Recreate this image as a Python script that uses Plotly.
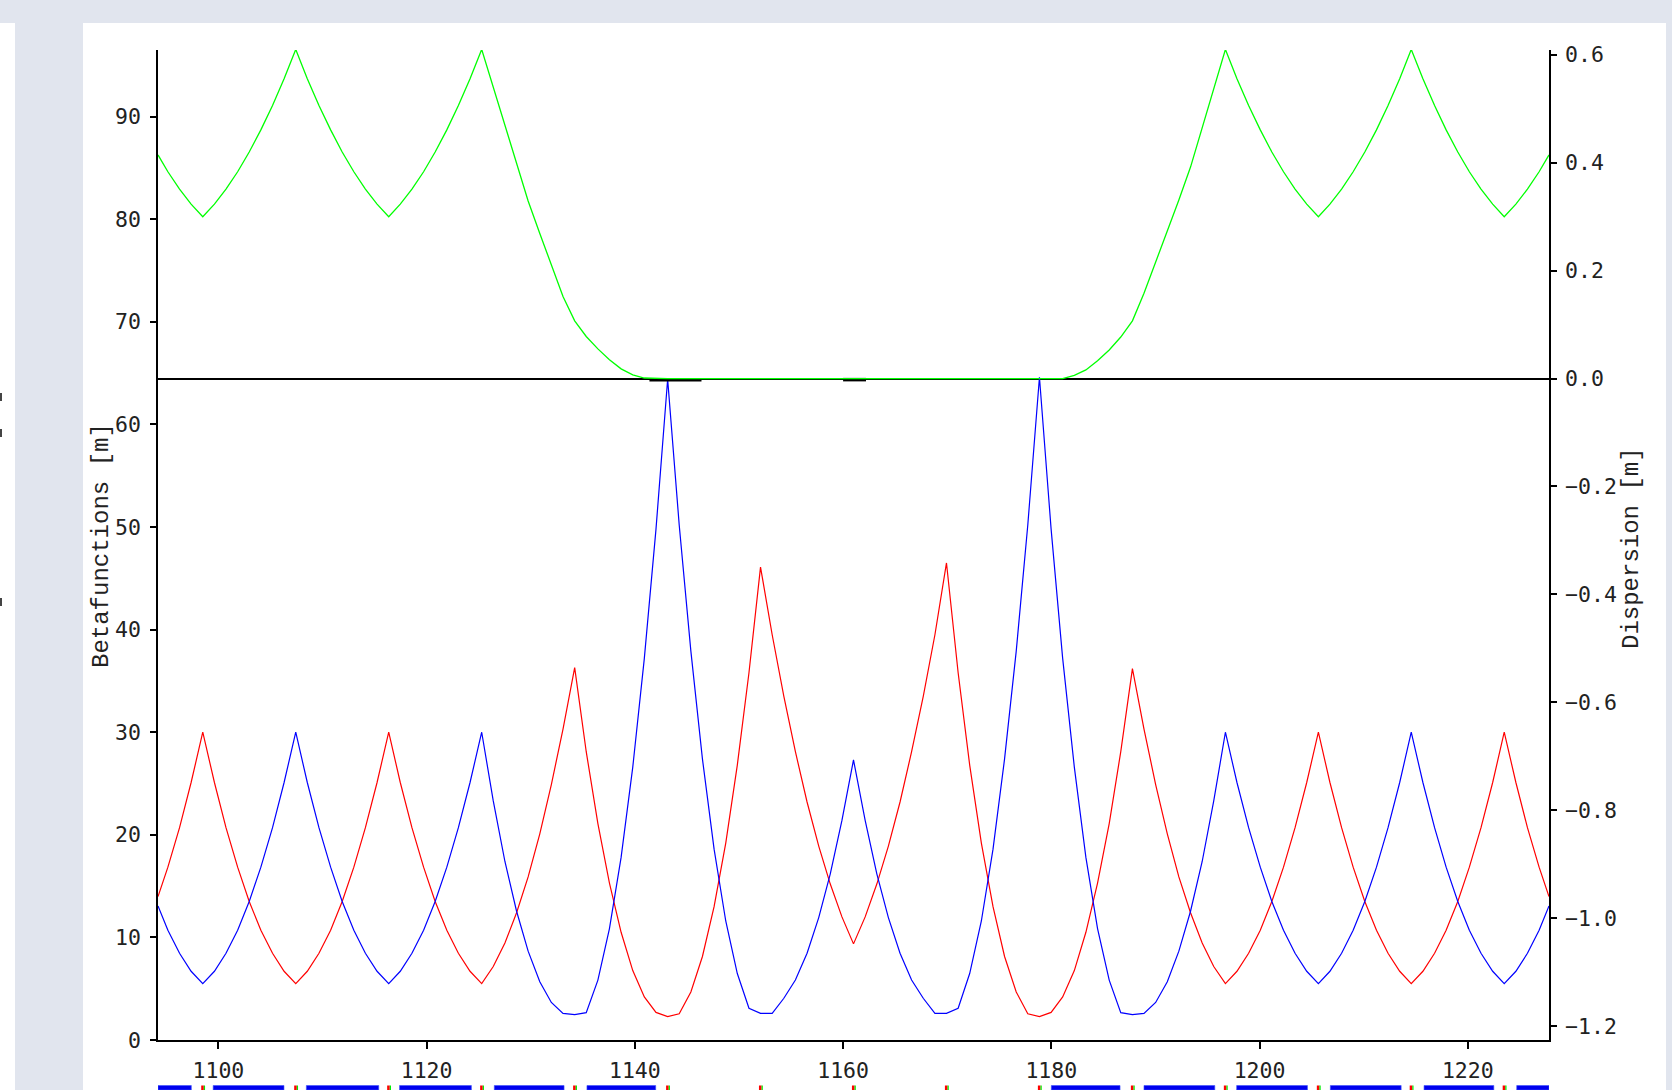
import plotly.graph_objects as go

# ---------------- data ----------------
s_pos = [1094.2, 1095.15, 1096.27, 1097.38,
         1098.50, 1099.62, 1100.73, 1101.85, 1102.96, 1104.08, 1105.20, 1106.31,
         1107.43, 1108.54, 1109.66, 1110.78, 1111.89, 1113.01, 1114.12, 1115.24,
         1116.36, 1117.47, 1118.59, 1119.71, 1120.82, 1121.94, 1123.05, 1124.17,
         1125.29, 1126.40, 1127.52, 1128.64, 1129.75, 1130.87, 1131.98, 1133.10,
         1134.22, 1135.33, 1136.45, 1137.56, 1138.68, 1139.80, 1140.91, 1142.03,
         1143.15, 1144.26, 1145.38, 1146.49, 1147.61, 1148.73, 1149.84, 1150.96,
         1152.07, 1153.19, 1154.31, 1155.42, 1156.54, 1157.66, 1158.77, 1159.89,
         1161.00, 1162.12, 1163.24, 1164.35, 1165.47, 1166.58, 1167.70, 1168.82,
         1169.93, 1171.05, 1172.16, 1173.28, 1174.40, 1175.51, 1176.63, 1177.74,
         1178.86, 1179.98, 1181.09, 1182.21, 1183.32, 1184.44, 1185.56, 1186.67,
         1187.79, 1188.90, 1190.02, 1191.14, 1192.25, 1193.37, 1194.49, 1195.60,
         1196.72, 1197.83, 1198.95, 1200.07, 1201.18, 1202.30, 1203.41, 1204.53,
         1205.65, 1206.76, 1207.88, 1208.99, 1210.11, 1211.23, 1212.34, 1213.46,
         1214.57, 1215.69, 1216.81, 1217.92, 1219.04, 1220.15, 1221.27, 1222.39,
         1223.50, 1224.62, 1225.73, 1226.85, 1227.8]

beta_x = [13.07, 10.7, 8.45, 6.7,
          5.5, 6.7, 8.45, 10.7, 13.5, 16.85, 20.7, 25.1,
          30.0, 25.1, 20.7, 16.85, 13.5, 10.7, 8.45, 6.7,
          5.5, 6.7, 8.45, 10.7, 13.5, 16.85, 20.7, 25.1,
          30.0, 23.3, 17.4, 12.55, 8.66, 5.67, 3.66, 2.59,
          2.47, 2.66, 5.84, 10.86, 17.8, 26.6, 37.2, 49.8,
          64.4, 50.2, 37.9, 27.4, 18.6, 11.6, 6.48, 3.1,
          2.6, 2.6, 4.07, 5.84, 8.46, 11.93, 16.2, 21.4,
          27.3, 21.4, 16.2, 11.93, 8.46, 5.84, 4.07, 2.6,
          2.6, 3.1, 6.48, 11.6, 18.6, 27.4, 37.9, 50.2,
          64.6, 49.8, 37.2, 26.6, 17.8, 10.86, 5.84, 2.66,
          2.47, 2.59, 3.66, 5.67, 8.66, 12.55, 17.4, 23.3,
          30.0, 25.1, 20.7, 16.85, 13.5, 10.7, 8.45, 6.7,
          5.5, 6.7, 8.45, 10.7, 13.5, 16.85, 20.7, 25.1,
          30.0, 25.1, 20.7, 16.85, 13.5, 10.7, 8.45, 6.7,
          5.5, 6.7, 8.45, 10.7, 13.07]

beta_y = [13.98, 16.85, 20.7, 25.1,
          30.0, 25.1, 20.7, 16.85, 13.5, 10.7, 8.45, 6.7,
          5.5, 6.7, 8.45, 10.7, 13.5, 16.85, 20.7, 25.1,
          30.0, 25.1, 20.7, 16.85, 13.5, 10.7, 8.45, 6.7,
          5.5, 7.16, 9.45, 12.4, 15.9, 20.1, 24.9, 30.3,
          36.3, 28.1, 21.1, 15.3, 10.5, 6.77, 4.2, 2.69,
          2.29, 2.56, 4.68, 8.14, 13.0, 19.2, 26.8, 35.8,
          46.1, 39.5, 33.5, 28.1, 23.2, 18.9, 15.2, 12.0,
          9.37, 12.0, 15.2, 18.9, 23.2, 28.1, 33.5, 39.5,
          46.5, 35.8, 26.8, 19.2, 13.0, 8.14, 4.68, 2.56,
          2.29, 2.69, 4.2, 6.77, 10.5, 15.3, 21.1, 28.1,
          36.2, 30.3, 24.9, 20.1, 15.9, 12.4, 9.45, 7.16,
          5.5, 6.7, 8.45, 10.7, 13.5, 16.85, 20.7, 25.1,
          30.0, 25.1, 20.7, 16.85, 13.5, 10.7, 8.45, 6.7,
          5.5, 6.7, 8.45, 10.7, 13.5, 16.85, 20.7, 25.1,
          30.0, 25.1, 20.7, 16.85, 13.98]

dispersion = [0.4146, 0.3833, 0.3512, 0.3234,
              0.300, 0.3234, 0.3512, 0.3833, 0.4199, 0.4609, 0.5062, 0.5559,
              0.610, 0.5559, 0.5062, 0.4609, 0.4199, 0.3833, 0.3512, 0.3234,
              0.300, 0.3234, 0.3512, 0.3833, 0.4199, 0.4609, 0.5062, 0.5559,
              0.610, 0.540, 0.466, 0.395, 0.329, 0.269, 0.209, 0.152,
              0.107, 0.078, 0.055, 0.035, 0.018, 0.007, 0.001, 0.0,
              0.0, 0.0, 0.0, 0.0, 0.0, 0.0, 0.0, 0.0,
              0.0, 0.0, 0.0, 0.0, 0.0, 0.0, 0.0, 0.0,
              0.0, 0.0, 0.0, 0.0, 0.0, 0.0, 0.0, 0.0,
              0.0, 0.0, 0.0, 0.0, 0.0, 0.0, 0.0, 0.0,
              0.0, 0.0, 0.0, 0.006, 0.016, 0.033, 0.053, 0.077,
              0.107, 0.158, 0.215, 0.272, 0.331, 0.392, 0.466, 0.540,
              0.610, 0.5559, 0.5062, 0.4609, 0.4199, 0.3833, 0.3512, 0.3234,
              0.300, 0.3234, 0.3512, 0.3833, 0.4199, 0.4609, 0.5062, 0.5559,
              0.610, 0.5559, 0.5062, 0.4609, 0.4199, 0.3833, 0.3512, 0.3234,
              0.300, 0.3234, 0.3512, 0.3833, 0.4146]

# thick black marks on the dispersion zero line
zero_mark_start = [1141.4, 1160.0]
zero_mark_end = [1146.4, 1162.2]
zero_mark_level = [-0.002, -0.002]

# lattice strip: dipoles (blue) and quadrupoles (red/green)
dipole_start = [1094.2, 1099.5, 1108.45, 1117.4, 1126.5, 1135.4,
                1180.0, 1188.9, 1197.8, 1206.8, 1215.8, 1224.7]
dipole_end = [1097.4, 1106.3, 1115.4, 1124.3, 1133.2, 1142.0,
              1186.6, 1195.7, 1204.6, 1213.6, 1222.5, 1227.8]
quad_s = [1098.50, 1107.43, 1116.36, 1125.29, 1134.22, 1143.15, 1152.07, 1161.00,
          1169.93, 1178.86, 1187.79, 1196.72, 1205.65, 1214.57, 1223.50]

x_ticks = [1100, 1120, 1140, 1160, 1180, 1200, 1220]
y_ticks = [0, 10, 20, 30, 40, 50, 60, 70, 80, 90]
y2_ticks = [-1.2, -1.0, -0.8, -0.6, -0.4, -0.2, 0.0, 0.2, 0.4, 0.6]

# ---------------- layout constants ----------------
W, H = 1672, 1090
L_M, R_M, T_M, B_M = 158, 123, 50, 50
PW = W - L_M - R_M
PH = H - T_M - B_M


def px_x(px):
    return (px - L_M) / PW


def px_y(py):
    return (H - B_M - py) / PH


TICK_FONT = dict(family="DejaVu Sans Mono", size=21.5, color="#222222")
TITLE_FONT = dict(family="Liberation Mono", size=24, color="#222222")
PAGE_BG = "#e1e5ee"

fig = go.Figure()

fig.add_trace(go.Scatter(x=s_pos, y=beta_y, mode="lines",
                         line=dict(color="#ff0000", width=1.2), showlegend=False))
fig.add_trace(go.Scatter(x=s_pos, y=beta_x, mode="lines",
                         line=dict(color="#0000ff", width=1.2), showlegend=False))

for a, b, lv in zip(zero_mark_start, zero_mark_end, zero_mark_level):
    fig.add_trace(go.Scatter(x=[a, b], y=[lv, lv], yaxis="y2", mode="lines",
                             line=dict(color="#000000", width=3.5), showlegend=False))

fig.add_trace(go.Scatter(x=s_pos, y=dispersion, yaxis="y2", mode="lines",
                         line=dict(color="#00ff00", width=1.3), showlegend=False))

shapes = []
# page background panels
shapes.append(dict(type="rect", xref="paper", yref="paper", layer="below",
                   x0=px_x(83), x1=px_x(1666), y0=px_y(1090), y1=px_y(23),
                   fillcolor="white", line=dict(width=0)))
shapes.append(dict(type="rect", xref="paper", yref="paper", layer="below",
                   x0=px_x(0), x1=px_x(15), y0=px_y(1090), y1=px_y(23),
                   fillcolor="white", line=dict(width=0)))
# cut-off page text fragments at the far left edge
for y_top in (393, 429, 598):
    shapes.append(dict(type="rect", xref="paper", yref="paper", layer="below",
                       x0=px_x(0), x1=px_x(2), y0=px_y(y_top + 8), y1=px_y(y_top),
                       fillcolor="#444444", line=dict(width=0)))
# lattice strip
strip_y0, strip_y1 = px_y(1090), px_y(1085.5)
for a, b in zip(dipole_start, dipole_end):
    shapes.append(dict(type="rect", xref="x", yref="paper", x0=a, x1=b,
                       y0=strip_y0, y1=strip_y1, fillcolor="#0000ee",
                       line=dict(color="#3a50ff", width=0.6)))
for q in quad_s:
    shapes.append(dict(type="rect", xref="x", yref="paper", x0=q - 0.15, x1=q + 0.1,
                       y0=strip_y0, y1=strip_y1, fillcolor="#ff0000", line=dict(width=0)))
    shapes.append(dict(type="rect", xref="x", yref="paper", x0=q + 0.1, x1=q + 0.22,
                       y0=strip_y0, y1=strip_y1, fillcolor="#00ee00", line=dict(width=0)))

annotations = [
    dict(text="Betafunctions [m]", xref="paper", yref="paper",
         x=px_x(101), y=px_y(546), textangle=-90, showarrow=False,
         font=TITLE_FONT, xanchor="center", yanchor="middle"),
    dict(text="Dispersion [m]", xref="paper", yref="paper",
         x=px_x(1631), y=px_y(548), textangle=-90, showarrow=False,
         font=TITLE_FONT, xanchor="center", yanchor="middle"),
]

fig.update_layout(
    width=W, height=H,
    margin=dict(l=L_M, r=R_M, t=T_M, b=B_M, pad=0, autoexpand=False),
    paper_bgcolor=PAGE_BG, plot_bgcolor="white",
    shapes=shapes, annotations=annotations,
    xaxis=dict(range=[1094.2, 1227.8], tickvals=x_ticks, ticks="outside", ticklen=7,
               tickwidth=1.5, tickcolor="#000", showline=True, linecolor="#000",
               linewidth=1.6, showgrid=False, zeroline=False, tickfont=TICK_FONT,
               ticklabelstandoff=3, automargin=False),
    yaxis=dict(range=[0, 96.5], tickvals=y_ticks, ticks="outside", ticklen=6,
               tickwidth=1.5, tickcolor="#000", showline=True, linecolor="#000",
               linewidth=1.6, showgrid=False, zeroline=False, tickfont=TICK_FONT,
               ticklabelstandoff=5, automargin=False),
    yaxis2=dict(range=[-1.226, 0.609], tickvals=y2_ticks, tickformat=".1f",
                overlaying="y", side="right", ticks="outside", ticklen=6,
                tickwidth=1.5, tickcolor="#000", showline=True, linecolor="#000",
                linewidth=1.6, showgrid=False, zeroline=True, zerolinecolor="#000",
                zerolinewidth=1.5, tickfont=TICK_FONT, ticklabelstandoff=4,
                automargin=False),
)

fig.write_html("out.html")
